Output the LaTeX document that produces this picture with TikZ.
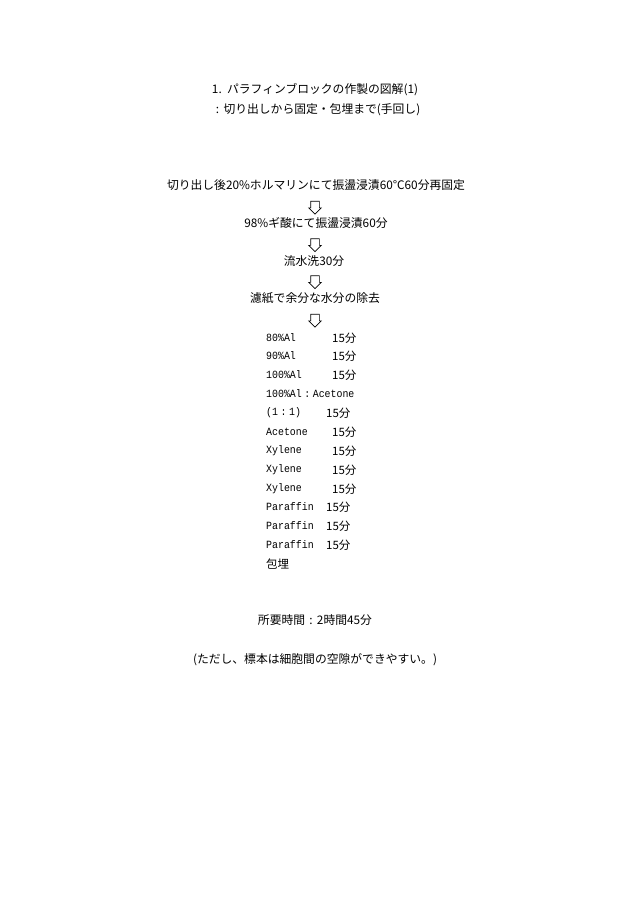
\documentclass[tikz,border=0pt]{standalone}
\usepackage{fontspec}
\usetikzlibrary{shapes.arrows}
\setmainfont{Noto Sans CJK JP}
\newfontfamily\mono[FakeStretch=0.9]{Liberation Mono}
\newcommand{\fwcolon}{\makebox[1em]{:}}
\tikzset{
  stepline/.style={font=\fontsize{11.8}{14}\selectfont},
  downarrow/.style={draw,line width=.7pt,single arrow,shape border rotate=270,
    minimum height=13pt,inner sep=4pt,single arrow head extend=2pt},
  listitem/.style={anchor=west,font=\mono\fontsize{11}{13}\selectfont},
  listtime/.style={anchor=west,font=\fontsize{11.5}{13}\selectfont}
}
\begin{document}
\begin{tikzpicture}[x=1pt,y=-1pt,every node/.style={inner sep=0pt}]
		\useasboundingbox (0,0) rectangle (630,916);
		% title
		\node[stepline] (t1) at (315,90){1.\ \ パラフィンブロックの作製の図解(1)};
		\node[stepline] (t2) at (316,110){\fwcolon 切り出しから固定・包埋まで(手回し)};
		% steps
		\node[stepline] (s1) at (316,185){切り出し後20\%ホルマリンにて振盪浸漬60℃60分再固定};
		\node[downarrow] (a1) at (315,205.5){};
		\node[stepline] (s2) at (316,223){98\%ギ酸にて振盪浸漬60分};
		\node[downarrow] (a2) at (315,243){};
		\node[stepline] (s3) at (314,261){流水洗30分};
		\node[downarrow] (a3) at (315,280){};
		\node[stepline] (s4) at (315,298){濾紙で余分な水分の除去};
		\node[downarrow] (a4) at (315,318.5){};
		% series
		\node[listitem] (l1) at (266,338){80\%Al};
		\node[listtime] (m1) at (332,338){15分};
		\node[listitem] (l2) at (266,356){90\%Al};
		\node[listtime] (m2) at (332,356){15分};
		\node[listitem] (l3) at (266,375){100\%Al};
		\node[listtime] (m3) at (332,375){15分};
		\node[listitem] (l4) at (266,394){100\%Al\fwcolon Acetone};
		\node[listitem] (l5) at (266,413){(1\fwcolon 1)};
		\node[listtime] (m5) at (326,413){15分};
		\node[listitem] (l6) at (266,432){Acetone};
		\node[listtime] (m6) at (332,432){15分};
		\node[listitem] (l7) at (266,451){Xylene};
		\node[listtime] (m7) at (332,451){15分};
		\node[listitem] (l8) at (266,470){Xylene};
		\node[listtime] (m8) at (332,470){15分};
		\node[listitem] (l9) at (266,489){Xylene};
		\node[listtime] (m9) at (332,489){15分};
		\node[listitem] (l10) at (266,507){Paraffin};
		\node[listtime] (m10) at (326,507){15分};
		\node[listitem] (l11) at (266,526){Paraffin};
		\node[listtime] (m11) at (326,526){15分};
		\node[listitem] (l12) at (266,545){Paraffin};
		\node[listtime] (m12) at (326,545){15分};
		\node[listtime] (l13) at (266,564){包埋};
		% footer
		\node[stepline] (f1) at (315,620){所要時間\fwcolon 2時間45分};
		\node[stepline] (f2) at (315,660){(ただし、標本は細胞間の空隙ができやすい。)};
\end{tikzpicture}
\end{document}
